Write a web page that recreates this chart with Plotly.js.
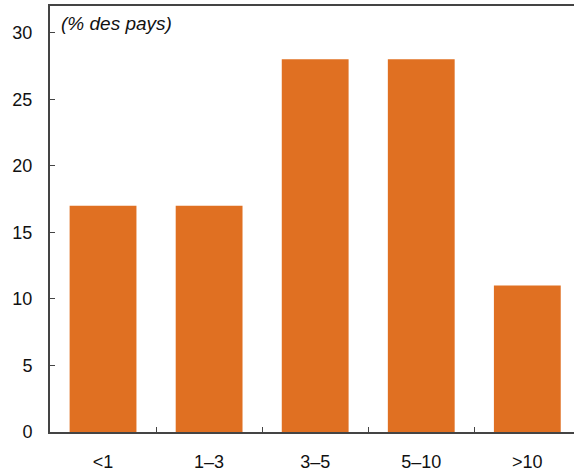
<!DOCTYPE html>
<html>
<head>
<meta charset="utf-8">
<script src="https://cdn.plot.ly/plotly-3.0.1.min.js"></script>
<style>html,body{margin:0;padding:0;background:#fff;}#chart{width:574px;height:470px;}</style>
</head>
<body>
<div id="chart"></div>
<script>
const categories = ["<1", "1–3", "3–5", "5–10", ">10"];
const values = [17, 17, 28, 28, 11];
const yTicks = [0, 5, 10, 15, 20, 25, 30];
const unitLabel = "(% des pays)";

const positions = categories.map((c, i) => i);
const boundaries = positions.slice(0, -1).map(p => p + 0.5);

const trace = {
  type: "bar",
  x: positions,
  y: values,
  width: 0.63,
  marker: {color: "#E07022"},
  hoverinfo: "skip"
};

const layout = {
  width: 574,
  height: 470,
  margin: {l: 50, r: 0, t: 6, b: 38, pad: 0},
  paper_bgcolor: "#fff",
  plot_bgcolor: "#fff",
  showlegend: false,
  font: {family: "Liberation Sans, Arial, sans-serif", color: "#111", size: 18},
  xaxis: {
    range: [-0.5, 4.44],
    tickmode: "array",
    tickvals: positions,
    ticktext: categories,
    ticks: "",
    showgrid: false,
    zeroline: false,
    showline: true,
    linecolor: "#444",
    linewidth: 2,
    mirror: true,
    ticklabelstandoff: 12,
    minor: {tickmode: "array", tickvals: boundaries, ticks: "inside", ticklen: 5, tickcolor: "#444", tickwidth: 1, showgrid: false},
    fixedrange: true
  },
  yaxis: {
    range: [0, 32],
    tickmode: "array",
    tickvals: yTicks,
    ticks: "inside",
    ticklen: 5,
    tickcolor: "#444",
    showgrid: false,
    zeroline: false,
    showline: true,
    linecolor: "#444",
    linewidth: 2,
    ticklabelstandoff: 12,
    fixedrange: true
  },
  annotations: [{
    xref: "paper", yref: "paper",
    x: 9 / 524, y: 0.96,
    xanchor: "left", yanchor: "middle",
    text: "<i>" + unitLabel + "</i>",
    showarrow: false,
    font: {size: 19, family: "Liberation Sans, Arial, sans-serif", color: "#111"}
  }]
};

Plotly.newPlot("chart", [trace], layout, {staticPlot: true, displayModeBar: false});
</script>
</body>
</html>
